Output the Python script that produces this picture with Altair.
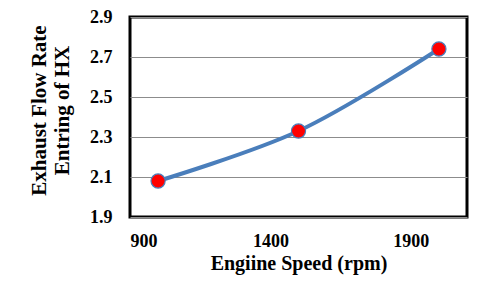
import altair as alt
import pandas as pd

speed = [1000, 1500, 2000]
flow = [2.08, 2.33, 2.74]
x_ticks = [900, 1400, 1900]
y_ticks = [1.9, 2.1, 2.3, 2.5, 2.7, 2.9]

df = pd.DataFrame({"speed": speed, "flow": flow})

FONT = "Liberation Serif"

x = alt.X("speed:Q", scale=alt.Scale(domain=[900, 2100], nice=False, zero=False),
          axis=alt.Axis(title="Engiine Speed (rpm)", values=x_ticks, grid=False, ticks=False,
                        domain=False, labelPadding=15, titlePadding=3, format="d", titleFontSize=20))
y = alt.Y("flow:Q", scale=alt.Scale(domain=[1.9, 2.9], nice=False, zero=False),
          axis=alt.Axis(title=["Exhaust Flow Rate", "Entring of HX"], values=y_ticks, grid=True,
                        ticks=False, domain=False, labelPadding=18, titlePadding=17, format=".1f",
                        gridColor="#8c8c8c", gridWidth=1, titleFontSize=21, titleLineHeight=23,
                        titleY=93))

line = alt.Chart(df).mark_line(interpolate="catmull-rom", color="#4a7ebb", strokeWidth=4).encode(x=x, y=y)
pts = alt.Chart(df).mark_point(filled=False, fill="#ff0000", fillOpacity=1, stroke="#4a7ebb",
                               strokeWidth=1.2, size=200, shape="circle", opacity=1).encode(x=x, y=y)

chart = (line + pts).properties(
    width=337, height=200,
    autosize=alt.AutoSizeParams(type="none"),
    padding={"left": 122, "top": 9, "right": 5, "bottom": 60},
).configure_view(stroke="black", strokeWidth=3).configure_axis(
    labelFont=FONT, titleFont=FONT, labelFontSize=18, titleFontSize=19,
    labelFontWeight="bold", titleFontWeight="bold", labelColor="black", titleColor="black",
)

chart.save("out.html", embed_options={"renderer": "svg", "actions": False})
